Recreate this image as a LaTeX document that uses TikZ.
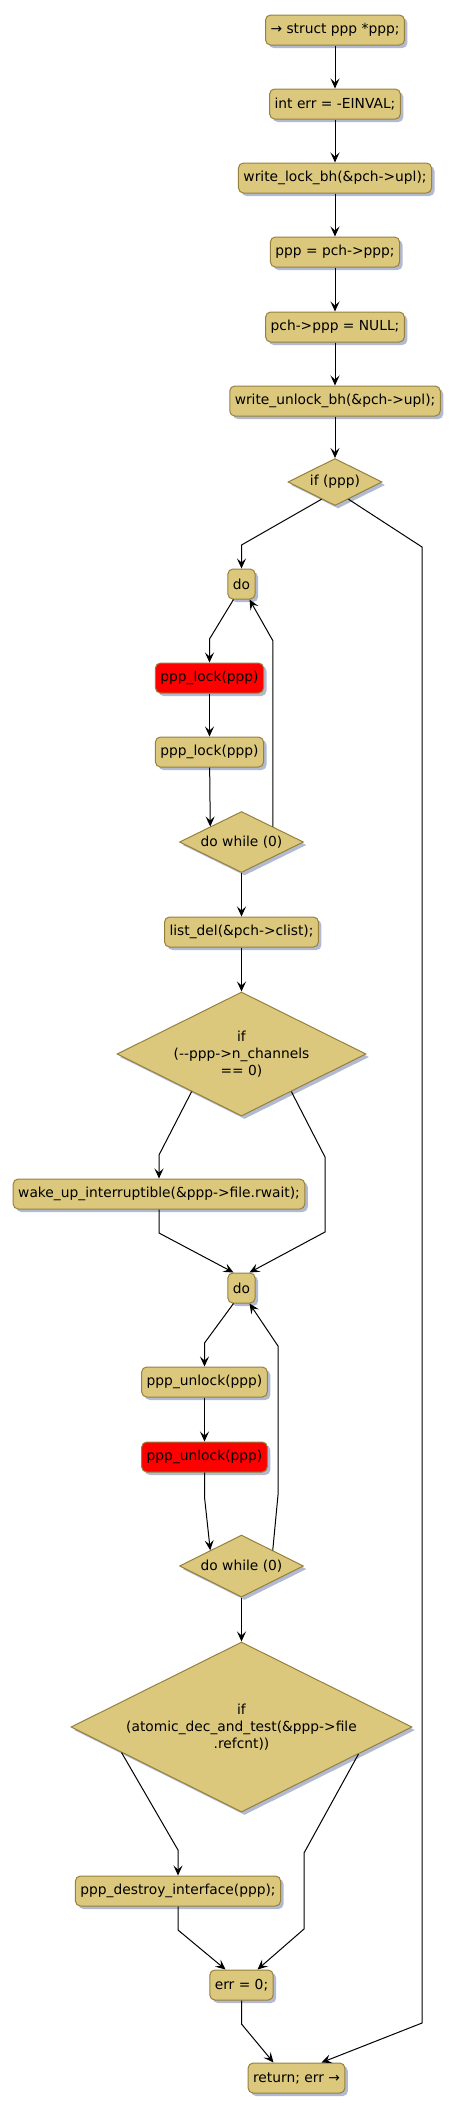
\documentclass[tikz,border=0pt]{standalone}
\usepackage{fontspec}
\newfontfamily\plantfont{DejaVu Sans}
\usetikzlibrary{arrows.meta, shapes.geometric, shadows}
\definecolor{actfill}{RGB}{219,200,125}
\definecolor{actline}{RGB}{150,128,60}
\definecolor{actshadow}{RGB}{168,178,204}
\definecolor{hotred}{RGB}{255,0,0}
\begin{document}
\begin{tikzpicture}[x=1pt, y=-1pt,
			act/.style={draw=actline, line width=1pt, fill=actfill, rounded corners=5pt, font=\plantfont\fontsize{13.8}{16.7}\selectfont, minimum height=30pt, inner xsep=5pt,
				drop shadow={shadow xshift=3pt, shadow yshift=-3pt, fill=actshadow, opacity=0.9}},
			hot/.style={act, fill=hotred},
			cond/.style={diamond, aspect=2, inner sep=0pt, draw=actline, line width=1pt, fill=actfill, font=\plantfont\fontsize{13.8}{16.7}\selectfont, align=center,
				drop shadow={shadow xshift=3pt, shadow yshift=-3pt, fill=actshadow, opacity=0.9}},
			arr/.style={-{Stealth[length=10pt, width=9pt, inset=4pt]}, line width=1pt}]
			\useasboundingbox (0,0) rectangle (459,2113);
			\node[act] (start) at (335,30) {→ struct ppp *ppp;};
			\node[act] (errinit) at (335,104) {int err = -EINVAL;};
			\node[act] (wlock) at (335,178) {write\_lock\_bh(\&pch->upl);};
			\node[act] (getppp) at (335,252) {ppp = pch->ppp;};
			\node[act] (clrppp) at (335,327) {pch->ppp = NULL;};
			\node[act] (wunlock) at (335,401) {write\_unlock\_bh(\&pch->upl);};
			\node[cond, minimum width=94pt, minimum height=47pt] (ifppp) at (335,482) {if (ppp)};
			\node[act] (doa) at (241.5,584) {do};
			\node[hot] (lockhot) at (209.5,678) {ppp\_lock(ppp)};
			\node[act] (lock) at (209.5,752) {ppp\_lock(ppp)};
			\node[cond, minimum width=124pt, minimum height=61pt] (whilea) at (241.5,842) {do while (0)};
			\node[act] (listdel) at (241.5,932) {list\_del(\&pch->clist);};
			\node[cond, minimum width=249pt, minimum height=124pt] (ifchan) at (241.5,1054) {if\\(--ppp->n\_channels\\== 0)};
			\node[act] (wake) at (159,1194) {wake\_up\_interruptible(\&ppp->file.rwait);};
			\node[act] (dob) at (241.5,1288) {do};
			\node[act] (unlock) at (204.5,1382) {ppp\_unlock(ppp)};
			\node[hot] (unlockhot) at (204.5,1457) {ppp\_unlock(ppp)};
			\node[cond, minimum width=124pt, minimum height=62pt] (whileb) at (241.5,1566) {do while (0)};
			\node[cond, minimum width=341pt, minimum height=170pt] (ifref) at (241.5,1727) {if\\(atomic\_dec\_and\_test(\&ppp->file\\.refcnt))};
			\node[act] (destroy) at (178,1891) {ppp\_destroy\_interface(ppp);};
			\node[act] (errzero) at (241.5,1985) {err = 0;};
			\node[act] (ret) at (296.5,2078) {return; err →};
			% straight chain at the top
			\draw[arr] (start) -- (errinit);
			\draw[arr] (errinit) -- (wlock);
			\draw[arr] (wlock) -- (getppp);
			\draw[arr] (getppp) -- (clrppp);
			\draw[arr] (clrppp) -- (wunlock);
			\draw[arr] (wunlock) -- (ifppp);
			\draw[arr] (ifppp.232) -- (241.5,545) -- (doa);
			\draw[arr] (ifppp.308) -- (422,547) -- (422,2023) -- ([xshift=25pt]ret.north);
			% first do while loop
			\draw[arr] ([xshift=-8pt]doa.south) -- (209.5,639) -- (lockhot);
			\draw[arr] (lockhot) -- (lock);
			\draw[arr] (lock) -- (whilea.north west);
			\draw[arr] (whilea.north east) -- ++(0,-186) -- ([xshift=8pt]doa.south);
			\draw[arr] (whilea) -- (listdel);
			\draw[arr] (listdel) -- (ifchan);
			\draw[arr] (ifchan.217) -- (159,1155) -- (wake);
			\draw[arr] (ifchan.323) -- (325,1157) -- (325,1232) -- ([xshift=8pt]dob.north);
			\draw[arr] (wake) -- (159,1233) -- ([xshift=-8pt]dob.north);
			% second do while loop
			\draw[arr] ([xshift=-8pt]dob.south) -- (204.5,1343) -- (unlock);
			\draw[arr] (unlock) -- (unlockhot);
			\draw[arr] (unlockhot) -- (204.5,1497) -- (whileb.north west);
			\draw[arr] (whileb.north east) -- (278,1495) -- (278,1346) -- ([xshift=8pt]dob.south);
			\draw[arr] (whileb) -- (ifref);
			\draw[arr] (ifref.192) -- (178,1850) -- (destroy);
			\draw[arr] (ifref.347) -- (304,1853) -- (304,1929) -- ([xshift=16pt]errzero.north);
			\draw[arr] (destroy) -- (178,1930) -- ([xshift=-16pt]errzero.north);
			\draw[arr] (errzero) -- (241.5,2024) -- ([xshift=-23pt]ret.north);
		\end{tikzpicture}
\end{document}
